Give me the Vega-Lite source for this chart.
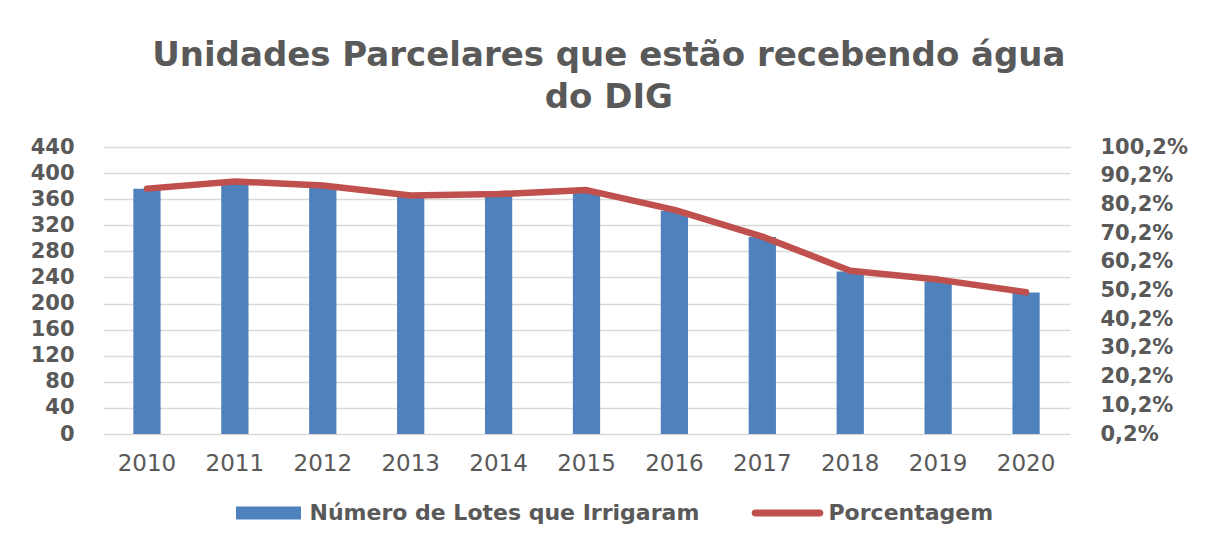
{
  "$schema": "https://vega.github.io/schema/vega-lite/v6.json",
  "width": 967,
  "height": 287,
  "autosize": {"type": "none"},
  "padding": {"left": 103, "top": 147, "right": 136, "bottom": 105},
  "background": "white",
  "config": {"view": {"stroke": null}, "font": "DejaVu Sans"},
  "title": {
    "text": ["Unidades Parcelares que estão recebendo água", "do DIG"],
    "fontSize": 34,
    "font": "DejaVu Sans",
    "fontWeight": "bold",
    "color": "#595959",
    "anchor": "middle",
    "frame": "bounds",
    "lineHeight": 42,
    "offset": 21
  },
  "data": {
    "values": [
      {"ano": "2010", "lotes": 376, "pct": 85.7},
      {"ano": "2011", "lotes": 386, "pct": 88.2},
      {"ano": "2012", "lotes": 381, "pct": 86.8},
      {"ano": "2013", "lotes": 366, "pct": 83.3},
      {"ano": "2014", "lotes": 368, "pct": 83.8},
      {"ano": "2015", "lotes": 373, "pct": 85.2},
      {"ano": "2016", "lotes": 342, "pct": 78.3},
      {"ano": "2017", "lotes": 302, "pct": 69.0},
      {"ano": "2018", "lotes": 249, "pct": 57.1},
      {"ano": "2019", "lotes": 234, "pct": 54.0},
      {"ano": "2020", "lotes": 217, "pct": 49.6}
    ]
  },
  "encoding": {
    "x": {
      "field": "ano",
      "type": "ordinal",
      "scale": {"paddingInner": 0.69, "paddingOuter": 0.345},
      "axis": {
        "title": null,
        "labelAngle": 0,
        "labelFontSize": 23,
        "labelFont": "DejaVu Sans",
        "labelColor": "#595959",
        "ticks": false,
        "domain": false,
        "grid": false,
        "labelPadding": 18
      }
    }
  },
  "layer": [
    {
      "mark": {"type": "bar"},
      "encoding": {
        "y": {
          "field": "lotes",
          "type": "quantitative",
          "scale": {"domain": [0, 440], "nice": false},
          "axis": {
            "title": null,
            "values": [0, 40, 80, 120, 160, 200, 240, 280, 320, 360, 400, 440],
            "labelFontSize": 21,
            "labelFont": "DejaVu Sans",
            "labelFontWeight": "bold",
            "labelColor": "#595959",
            "ticks": false,
            "domain": false,
            "grid": true,
            "gridColor": "#D9D9D9",
            "gridWidth": 1.5,
            "labelPadding": 29
          }
        },
        "color": {
          "datum": "Número de Lotes que Irrigaram",
          "scale": {
            "domain": ["Número de Lotes que Irrigaram", "Porcentagem"],
            "range": ["#4F81BD", "#C0504D"]
          },
          "legend": {
            "title": null,
            "orient": "none",
            "legendX": 129.5,
            "legendY": 330,
            "direction": "horizontal",
            "columns": 2,
            "symbolSize": 5184,
            "symbolOpacity": 1,
            "labelFontSize": 22,
            "labelFont": "DejaVu Sans",
            "labelFontWeight": "bold",
            "labelColor": "#595959",
            "labelLimit": 0,
            "labelOffset": 5,
            "columnPadding": 52,
            "encode": {
              "symbols": {
                "update": {
                  "shape": {"signal": "datum.value === 'Porcentagem' ? 'M-0.9,-0.097 H0.9 A0.097,0.097 0 0 1 0.9,0.097 H-0.9 A0.097,0.097 0 0 1 -0.9,-0.097 Z' : 'M-0.903,-0.18 H0.903 V0.18 H-0.903 Z'"},
                  "strokeWidth": {"value": 0}
                }
              }
            }
          }
        }
      }
    },
    {
      "mark": {"type": "line", "color": "#C0504D", "strokeWidth": 6.5, "strokeCap": "round", "strokeJoin": "round"},
      "encoding": {
        "y": {
          "field": "pct",
          "type": "quantitative",
          "scale": {"domain": [0.2, 100.2], "nice": false, "zero": false},
          "axis": {
            "orient": "right",
            "title": null,
            "values": [0.2, 10.2, 20.2, 30.2, 40.2, 50.2, 60.2, 70.2, 80.2, 90.2, 100.2],
            "labelExpr": "replace(format(datum.value, '.1f'), '.', ',') + '%'",
            "labelFontSize": 21,
            "labelFont": "DejaVu Sans",
            "labelFontWeight": "bold",
            "labelColor": "#595959",
            "ticks": false,
            "domain": false,
            "grid": false,
            "labelPadding": 30
          }
        }
      }
    }
  ],
  "resolve": {"scale": {"y": "independent"}}
}
